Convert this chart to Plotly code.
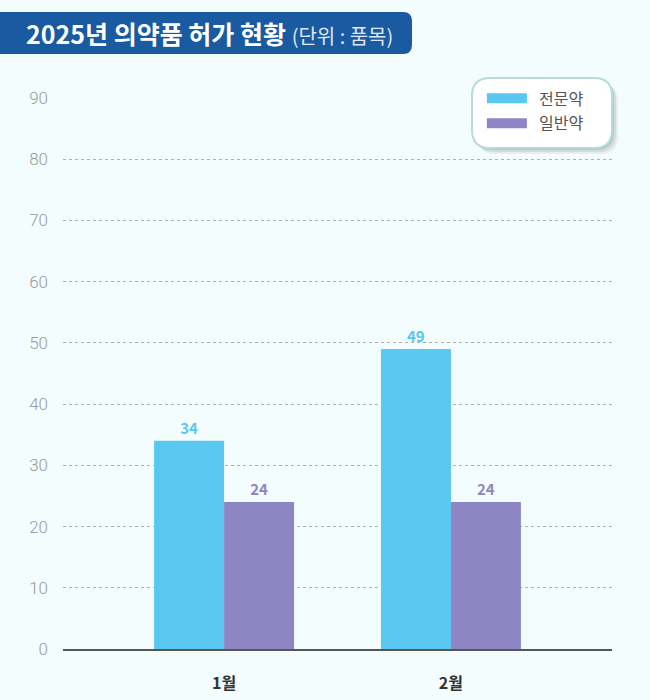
import plotly.graph_objects as go

# data
months = ["1월", "2월"]
series_names = ["전문약", "일반약"]
rx_values = [34, 49]       # 전문약
otc_values = [24, 24]      # 일반약
y_ticks = [0, 10, 20, 30, 40, 50, 60, 70, 80, 90]

BLUE = "#59c8f1"
PURPLE = "#8e86c4"
BG = "#f4fdfd"
FONT = "Noto Sans CJK KR"

fig = go.Figure()

for i, (name, vals, color) in enumerate([(series_names[0], rx_values, BLUE),
                                         (series_names[1], otc_values, PURPLE)]):
    fig.add_trace(go.Bar(
        x=months,
        y=vals,
        name=name,
        marker=dict(color=color, line=dict(width=0)),
        text=vals,
        textposition="outside",
        textfont=dict(family=FONT, size=15, color=color, weight="bold"),
        cliponaxis=False,
        showlegend=False,
        hovertemplate=name + " %{x}: %{y}<extra></extra>",
    ))
    # legend-only entry so the swatch is a wide bar like the original
    fig.add_trace(go.Scatter(
        x=[None], y=[None], mode="lines", name="\u00a0\u00a0" + name,
        line=dict(color=color, width=15),
        legendgroup=f"g{i}", showlegend=True, hoverinfo="skip",
    ))

# title banner, rounded on the right side (pixel offsets from top-left of plot)
fig.add_shape(
    type="path", xref="paper", yref="paper",
    xsizemode="pixel", ysizemode="pixel", xanchor=0, yanchor=1,
    path="M -70,44 L 340,44 Q 349,44 349,53 L 349,77 Q 349,86 340,86 L -70,86 Z",
    fillcolor="#1a5aa0", line=dict(width=0), layer="above",
)

# legend box with soft shadow (offsets from top-right of plot)
for off, alpha in [(6, 0.10), (4, 0.15), (2, 0.2)]:
    fig.add_shape(
        type="path", xref="paper", yref="paper",
        xsizemode="pixel", ysizemode="pixel", xanchor=1, yanchor=1,
        path=f"M {-122 + off},{20 - off} L {-18 + off},{20 - off} Q {off},{20 - off} {off},{2 - off} "
             f"L {off},{-32 - off} Q {off},{-50 - off} {-18 + off},{-50 - off} "
             f"L {-122 + off},{-50 - off} Q {-140 + off},{-50 - off} {-140 + off},{-32 - off} "
             f"L {-140 + off},{2 - off} Q {-140 + off},{20 - off} {-122 + off},{20 - off} Z",
        fillcolor=f"rgba(90,120,120,{alpha})", line=dict(width=0), layer="above",
    )
fig.add_shape(
    type="path", xref="paper", yref="paper",
    xsizemode="pixel", ysizemode="pixel", xanchor=1, yanchor=1,
    path="M -122,20 L -18,20 Q 0,20 0,2 L 0,-32 Q 0,-50 -18,-50 "
         "L -122,-50 Q -140,-50 -140,-32 L -140,2 Q -140,20 -122,20 Z",
    fillcolor="white", line=dict(color="#b9dada", width=2), layer="above",
)

fig.add_annotation(
    xref="paper", yref="paper", x=-0.071, y=1.118,
    xanchor="left", yanchor="middle", showarrow=False,
    text="<b>2025년 의약품 허가 현황</b> <span style='font-size:20px;color:#dfe8f3'>(단위 : 품목)</span>",
    font=dict(family=FONT, size=25, color="white"),
)

fig.update_layout(
    width=650, height=700,
    margin=dict(l=63, r=38, t=98, b=51, autoexpand=False),
    paper_bgcolor=BG, plot_bgcolor=BG,
    barmode="group", bargap=0.383, bargroupgap=0,
    showlegend=True,
    legend=dict(
        x=0.763, y=1.03, xanchor="left", yanchor="top",
        bgcolor="rgba(0,0,0,0)",
        font=dict(family=FONT, size=16, color="#555555"),
        itemwidth=40, tracegroupgap=1,
    ),
    xaxis=dict(
        range=[-0.71, 1.71], automargin=False,
        showgrid=False, showline=True, linecolor="#555555", linewidth=2,
        ticks="", ticklabelstandoff=19,
        tickfont=dict(family=FONT, size=16, color="#333333", weight="bold"),
        fixedrange=True,
    ),
    yaxis=dict(
        range=[0, 90], tickvals=y_ticks, automargin=False,
        showgrid=True, gridcolor="#aab4b4", griddash="dot", gridwidth=1,
        zeroline=False, showline=False, ticks="", ticklabelstandoff=14,
        tickfont=dict(family="Roboto", size=17, color="#9a9a9a", weight=300),
        fixedrange=True,
    ),
)

fig.write_html("out.html", config={"displayModeBar": False},
               post_script="document.body.style.margin='0';")
